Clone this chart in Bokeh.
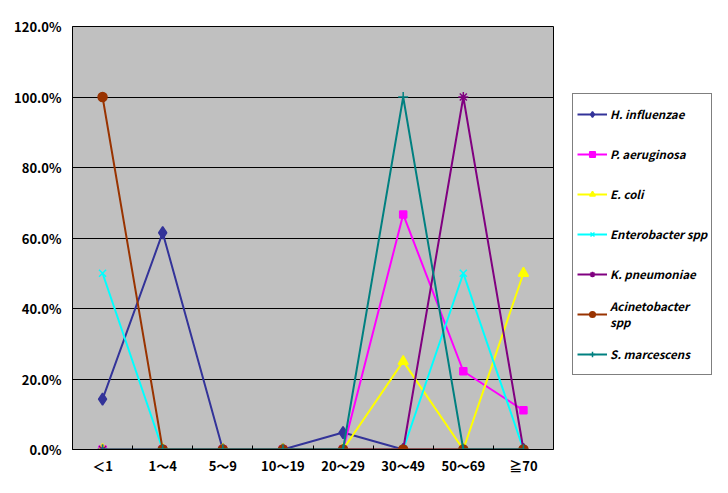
from bokeh.plotting import figure
from bokeh.models import FixedTicker, NumeralTickFormatter, Legend, LegendItem, Range1d
from bokeh.embed import file_html
from bokeh.resources import INLINE

categories = ["＜1", "1～4", "5～9", "10～19", "20～29", "30～49", "50～69", "≧70"]
h_influenzae = [0.143, 0.615, 0.0, 0.0, 0.048, 0.0, 0.0, 0.0]
p_aeruginosa = [0.0, 0.0, 0.0, 0.0, 0.0, 0.667, 0.222, 0.111]
e_coli = [0.0, 0.0, 0.0, 0.0, 0.0, 0.25, 0.0, 0.5]
enterobacter = [0.5, 0.0, 0.0, 0.0, 0.0, 0.0, 0.5, 0.0]
k_pneumoniae = [0.0, 0.0, 0.0, 0.0, 0.0, 0.0, 1.0, 0.0]
acinetobacter = [1.0, 0.0, 0.0, 0.0, 0.0, 0.0, 0.0, 0.0]
s_marcescens = [0.0, 0.0, 0.0, 0.0, 0.0, 1.0, 0.0, 0.0]
y_ticks = [0.0, 0.2, 0.4, 0.6, 0.8, 1.0, 1.2]

series = [
    ("H. influenzae", h_influenzae, "#333399", "diamond", 12),
    ("P. aeruginosa", p_aeruginosa, "#FF00FF", "square", 7),
    ("E. coli", e_coli, "#FFFF00", "triangle", 10),
    ("Enterobacter spp", enterobacter, "#00FFFF", "x", 10),
    ("K. pneumoniae", k_pneumoniae, "#800080", "asterisk", 10),
    ("Acinetobacter\nspp", acinetobacter, "#993300", "circle", 9),
    ("S. marcescens", s_marcescens, "#008080", "cross", 10),
]

FONT = "Noto Sans CJK JP"
xs = [i + 0.5 for i in range(len(categories))]

p = figure(frame_width=481, frame_height=423,
           output_backend="svg", toolbar_location=None,
           x_range=Range1d(0, len(categories)), y_range=Range1d(0, 1.2),
           min_border_left=72, min_border_right=175, min_border_top=26, min_border_bottom=36)

p.background_fill_color = "#C0C0C0"
p.border_fill_color = "white"
p.outline_line_color = "black"
p.outline_line_width = 1

p.xgrid.visible = False
p.ygrid.ticker = FixedTicker(ticks=y_ticks)
p.ygrid.grid_line_color = "black"
p.ygrid.grid_line_width = 1

p.xaxis.ticker = FixedTicker(ticks=xs, minor_ticks=list(range(1, len(categories))))
p.xaxis.major_label_overrides = {x: c for x, c in zip(xs, categories)}
p.xaxis.major_tick_in = 0
p.xaxis.major_tick_out = 0
p.xaxis.minor_tick_in = 4
p.xaxis.minor_tick_out = 0
p.xaxis.minor_tick_line_color = "black"
p.xaxis.axis_line_color = "black"
p.xaxis.major_label_standoff = 6
p.xaxis.major_label_text_font = FONT
p.xaxis.major_label_text_font_style = "bold"
p.xaxis.major_label_text_font_size = "13px"
p.xaxis.major_label_text_color = "black"

p.yaxis.ticker = FixedTicker(ticks=y_ticks)
p.yaxis.formatter = NumeralTickFormatter(format="0.0%")
p.yaxis.major_tick_in = 0
p.yaxis.major_tick_out = 0
p.yaxis.minor_tick_in = 0
p.yaxis.minor_tick_out = 0
p.yaxis.axis_line_color = "black"
p.yaxis.major_label_standoff = 11
p.yaxis.major_label_text_font = FONT
p.yaxis.major_label_text_font_style = "bold"
p.yaxis.major_label_text_font_size = "13px"
p.yaxis.major_label_text_color = "black"

items = []
for name, vals, color, marker, size in series:
    ln = p.line(xs, vals, line_color=color, line_width=2)
    sc = p.scatter(xs, vals, marker=marker, size=size, fill_color=color,
                   line_color=color, line_width=1.5)
    items.append(LegendItem(label=name, renderers=[ln, sc]))

legend = Legend(items=items, location=(19, 74))
legend.border_line_color = "black"
legend.border_line_width = 1
legend.background_fill_color = "white"
legend.background_fill_alpha = 1
legend.label_text_font = FONT
legend.label_text_font_style = "bold italic"
legend.label_text_font_size = "11.5px"
legend.label_text_line_height = 0.9
legend.label_text_color = "black"
legend.glyph_width = 30
legend.glyph_height = 14
legend.label_height = 32
legend.spacing = 8
legend.padding = 4
legend.margin = 0
legend.label_standoff = 3
p.add_layout(legend, "right")

open("out.html", "w").write(file_html(p, INLINE))
